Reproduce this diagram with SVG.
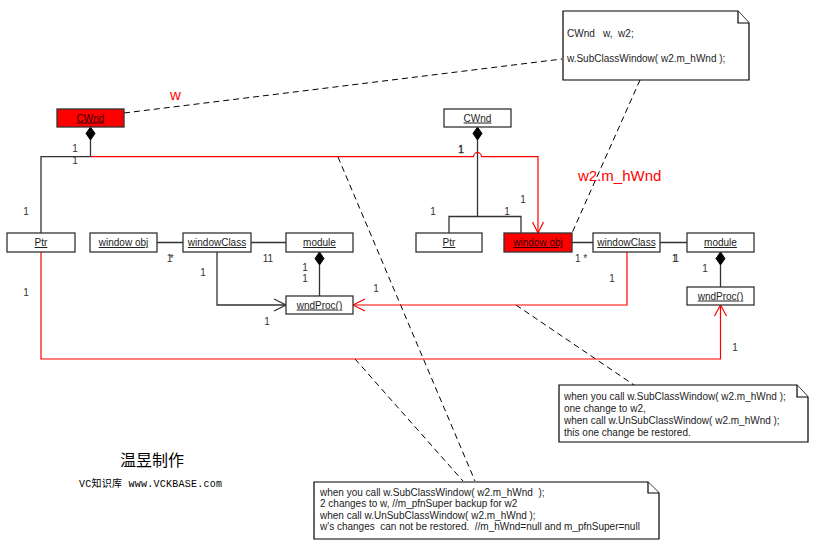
<svg xmlns="http://www.w3.org/2000/svg" width="819" height="547" viewBox="0 0 819 547">
<style>
.box{fill:#fff;stroke:#333;stroke-width:1.3}
.redbox{fill:#f00;stroke:#333;stroke-width:1.3}
.lbl{font-family:"Liberation Sans",Arial,sans-serif;font-size:10px;fill:#222;text-anchor:middle;text-decoration:underline}
.lblr{font-family:"Liberation Sans",Arial,sans-serif;font-size:10px;fill:#300;text-anchor:middle;text-decoration:underline}
.m{font-family:"Liberation Sans",Arial,sans-serif;font-size:10px;fill:#333;text-anchor:middle}
.t{font-family:"Liberation Sans",Arial,sans-serif;font-size:10px;fill:#222}
.rt{font-family:"Liberation Sans",Arial,sans-serif;font-size:15px;fill:#f00}
.ln{fill:none;stroke:#333;stroke-width:1.3}
.rl{fill:none;stroke:#f00;stroke-width:1.2}
.dash{fill:none;stroke:#000;stroke-width:1;stroke-dasharray:6,4}
.note{fill:#fff;stroke:#000;stroke-width:1.2}
.dia{fill:#000;stroke:#000;stroke-width:1}
</style>
<rect width="819" height="547" fill="#fff"/>

<g id="connectors">
  <line class="dash" x1="124" y1="113" x2="562" y2="59"/>
  <line class="dash" x1="640" y1="80" x2="572" y2="233"/>
  <line class="dash" x1="338" y1="157" x2="475" y2="481"/>
  <line class="dash" x1="355" y1="359" x2="463" y2="481"/>
  <line class="dash" x1="516" y1="305" x2="634" y2="385"/>
  <path class="ln" d="M90.5,140 V156.7 H41 V233"/>
  <path class="ln" d="M477.5,140 V216.5 M449,233 V216.5 H521 V233"/>
  <path class="ln" d="M157,242.5 H183 M251,242.5 H286"/>
  <path class="ln" d="M217,252 V305 H286"/>
  <path class="ln" d="M274,299 L286,305 L274,311"/>
  <path class="ln" d="M319.5,265 V296"/>
  <path class="ln" d="M572,242.5 H593 M660,242.5 H687"/>
  <path class="ln" d="M720.5,265 V287"/>
  <path class="rl" d="M91,156.7 H473.5 A4,4 0 0 1 481.5,156.7 H538 V233"/>
  <path class="rl" d="M532.5,222 L538,233 L543.5,222"/>
  <path class="rl" d="M627,252 V305 H353"/>
  <path class="rl" d="M365,299 L353,305 L365,311"/>
  <path class="rl" d="M41,252 V359 H720.5 V305"/>
  <path class="rl" d="M714.5,316 L720.5,305 L726.5,316"/>
  <path class="dia" d="M90.5,127 L95,133.5 L90.5,140 L86,133.5 Z"/>
  <path class="dia" d="M477.5,127 L482,133.5 L477.5,140 L473,133.5 Z"/>
  <path class="dia" d="M319.5,252 L324,258.5 L319.5,265 L315,258.5 Z"/>
  <path class="dia" d="M720.5,252 L725,258.5 L720.5,265 L716,258.5 Z"/>
</g>

<g id="cwnd-w">
  <rect class="redbox" x="57" y="109" width="67" height="18"/>
  <text class="lblr" x="90.5" y="121.5">CWnd</text>
</g>
<g id="cwnd-w2">
  <rect class="box" x="444" y="109" width="67" height="18"/>
  <text class="lbl" x="477.5" y="121.5">CWnd</text>
</g>
<g id="ptr1">
  <rect class="box" x="7" y="233" width="68" height="19"/>
  <text class="lbl" x="41" y="246">Ptr</text>
</g>
<g id="winobj1">
  <rect class="box" x="90" y="233" width="67" height="19"/>
  <text class="lbl" x="123.5" y="246">window obj</text>
</g>
<g id="wc1">
  <rect class="box" x="183" y="233" width="68" height="19"/>
  <text class="lbl" x="217" y="246">windowClass</text>
</g>
<g id="mod1">
  <rect class="box" x="286" y="233" width="67" height="19"/>
  <text class="lbl" x="319.5" y="246">module</text>
</g>
<g id="wp1">
  <rect class="box" x="286" y="296" width="67" height="18"/>
  <text class="lbl" x="319.5" y="308.5">wndProc()</text>
</g>
<g id="ptr2">
  <rect class="box" x="416" y="233" width="66" height="19"/>
  <text class="lbl" x="449" y="246">Ptr</text>
</g>
<g id="winobj2">
  <rect class="redbox" x="504" y="233" width="68" height="19"/>
  <text class="lblr" x="538" y="246">window obj</text>
</g>
<g id="wc2">
  <rect class="box" x="593" y="233" width="67" height="19"/>
  <text class="lbl" x="626.5" y="246">windowClass</text>
</g>
<g id="mod2">
  <rect class="box" x="687" y="233" width="67" height="19"/>
  <text class="lbl" x="720.5" y="246">module</text>
</g>
<g id="wp2">
  <rect class="box" x="687" y="287" width="67" height="18"/>
  <text class="lbl" x="720.5" y="299.5">wndProc()</text>
</g>

<g id="note-top">
  <path class="note" d="M563,11 H738 L749,23 V80 H563 Z"/>
  <path class="note" d="M738,11 V23 H749" fill="none"/>
  <text class="t" x="567" y="37" xml:space="preserve">CWnd   w,  w2;</text>
  <text class="t" x="567" y="62">w.SubClassWindow( w2.m_hWnd );</text>
</g>
<g id="note-right">
  <path class="note" d="M559,385 H797 L808,397 V442 H559 Z"/>
  <path class="note" d="M797,385 V397 H808" fill="none"/>
  <text class="t" x="564" y="399.5">when you call w.SubClassWindow( w2.m_hWnd );</text>
  <text class="t" x="564" y="411.5">one change to w2,</text>
  <text class="t" x="564" y="423.5">when call w.UnSubClassWindow( w2.m_hWnd );</text>
  <text class="t" x="564" y="435.5">this one change be restored.</text>
</g>
<g id="note-bottom">
  <path class="note" d="M314,482 H648 L659,493 V539 H314 Z"/>
  <path class="note" d="M648,482 V493 H659" fill="none"/>
  <text class="t" x="320" y="495.5" xml:space="preserve">when you call w.SubClassWindow( w2.m_hWnd  );</text>
  <text class="t" x="320" y="507">2 changes to w, //m_pfnSuper backup for w2</text>
  <text class="t" x="320" y="518.5">when call w.UnSubClassWindow( w2.m_hWnd );</text>
  <text class="t" x="320" y="530" xml:space="preserve">w's changes  can not be restored.  //m_hWnd=null and m_pfnSuper=null</text>
</g>

<g id="multiplicities">
  <text class="m" x="75" y="151.5">1</text>
  <text class="m" x="75" y="163.5">1</text>
  <text class="m" x="26" y="214.5">1</text>
  <text class="m" x="26" y="295.5">1</text>
  <text class="m" x="169" y="262" letter-spacing="-2.5">1*</text>
  <text class="m" x="268" y="262">11</text>
  <text class="m" x="203" y="275.5">1</text>
  <text class="m" x="305" y="270.5">1</text>
  <text class="m" x="305" y="282">1</text>
  <text class="m" x="267" y="324.5">1</text>
  <text class="m" x="376" y="291.5">1</text>
  <text class="m" x="461" y="152.5" stroke="#333" stroke-width="0.4">1</text>
  <text class="m" x="433" y="214.5">1</text>
  <text class="m" x="507" y="214.5">1</text>
  <text class="m" x="523" y="202.5">1</text>
  <text class="m" x="581" y="262">1 *</text>
  <text class="m" x="674" y="262" letter-spacing="-3">11</text>
  <text class="m" x="612" y="281.5">1</text>
  <text class="m" x="705" y="271.5">1</text>
  <text class="m" x="735" y="350.5">1</text>
</g>

<g id="red-labels">
  <text class="rt" x="170" y="100">w</text>
  <text class="rt" x="578" y="181">w2.m_hWnd</text>
</g>

<g id="credits">
  <text x="152" y="466" font-family="'Noto Sans CJK SC',sans-serif" font-size="16" fill="#000" text-anchor="middle">温昱制作</text>
  <text x="79" y="487" font-family="'Liberation Mono','Noto Sans CJK SC',monospace" font-size="10" fill="#000" textLength="143" lengthAdjust="spacing">VC知识库 www.VCKBASE.com</text>
</g>
</svg>
